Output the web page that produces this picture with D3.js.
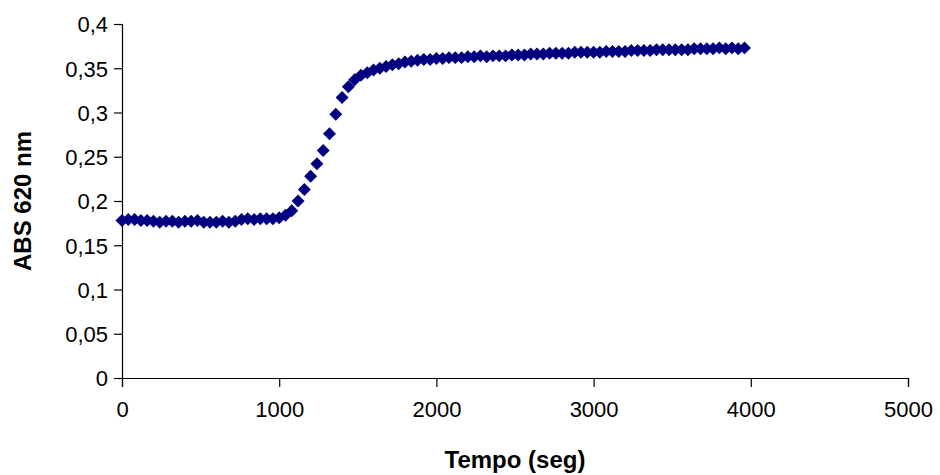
<!DOCTYPE html>
<html><head><meta charset="utf-8">
<script src="https://cdn.jsdelivr.net/npm/d3@7"></script>
<style>body{margin:0;background:#fff}svg{display:block}text{font-family:"Liberation Sans",Arial,sans-serif}</style>
</head><body><svg id="c" width="940" height="475"></svg>
<script>
const times = [0,40,80,120,160,200,240,280,320,360,400,440,480,520,560,600,640,680,720,760,800,840,880,920,960,1000,1040,1080,1120,1160,1200,1240,1280,1320,1360,1400,1440,1480,1520,1560,1600,1640,1680,1720,1760,1800,1840,1880,1920,1960,2000,2040,2080,2120,2160,2200,2240,2280,2320,2360,2400,2440,2480,2520,2560,2600,2640,2680,2720,2760,2800,2840,2880,2920,2960,3000,3040,3080,3120,3160,3200,3240,3280,3320,3360,3400,3440,3480,3520,3560,3600,3640,3680,3720,3760,3800,3840,3880,3920,3960];
const absValues = [0.178,0.179,0.179,0.178,0.178,0.177,0.176,0.177,0.177,0.176,0.177,0.177,0.178,0.176,0.176,0.176,0.177,0.176,0.177,0.179,0.180,0.179,0.180,0.180,0.180,0.181,0.184,0.189,0.200,0.213,0.228,0.242,0.257,0.276,0.298,0.317,0.329,0.337,0.342,0.345,0.348,0.350,0.352,0.354,0.355,0.357,0.358,0.359,0.360,0.360,0.361,0.361,0.362,0.362,0.362,0.363,0.363,0.364,0.363,0.364,0.364,0.364,0.365,0.365,0.365,0.366,0.366,0.366,0.367,0.367,0.367,0.367,0.368,0.368,0.368,0.368,0.368,0.369,0.369,0.369,0.369,0.370,0.370,0.370,0.370,0.371,0.371,0.371,0.371,0.371,0.371,0.372,0.372,0.372,0.372,0.373,0.372,0.373,0.372,0.373];
const xTicks = [0,1000,2000,3000,4000,5000];
const yTicks = [0,0.05,0.1,0.15,0.2,0.25,0.3,0.35,0.4];
const xTitle = "Tempo (seg)";
const yTitle = "ABS 620 nm";

const svg = d3.select("#c");
const x = d3.scaleLinear().domain([0,5000]).range([122,908]);
const y = d3.scaleLinear().domain([0,0.4]).range([378,24]);
const fmt = d => String(d).replace(".", ",");

const gx = svg.append("g").attr("transform","translate(0,378)")
  .call(d3.axisBottom(x).tickValues(xTicks).tickSize(9).tickPadding(14).tickFormat(d=>d));
const gy = svg.append("g").attr("transform","translate(122,0)")
  .call(d3.axisLeft(y).tickValues(yTicks).tickSize(8).tickPadding(6).tickFormat(fmt));
[gx,gy].forEach(g=>{
  g.select(".domain").attr("stroke","#000").attr("stroke-width",1.2);
  g.selectAll(".tick line").attr("stroke","#000").attr("stroke-width",1.2);
  g.selectAll(".tick text").attr("font-size",22).attr("fill","#000").attr("font-family","Liberation Sans, Arial, sans-serif");
});
gy.selectAll(".tick text").attr("dy","0.36em");

const sym = d3.symbol().type(d3.symbolSquare).size(84);
svg.append("g").selectAll("path").data(times.map((t,i)=>[t,absValues[i]])).join("path")
  .attr("d", sym)
  .attr("transform", d=>`translate(${x(d[0])},${y(d[1])}) rotate(45)`)
  .attr("fill","#000080");

svg.append("text").attr("x",515).attr("y",468).attr("text-anchor","middle")
  .attr("font-size",24).attr("font-weight","bold").text(xTitle);
svg.append("text").attr("transform","translate(31,201) rotate(-90)").attr("text-anchor","middle")
  .attr("font-size",24).attr("font-weight","bold").text(yTitle);
</script></body></html>
